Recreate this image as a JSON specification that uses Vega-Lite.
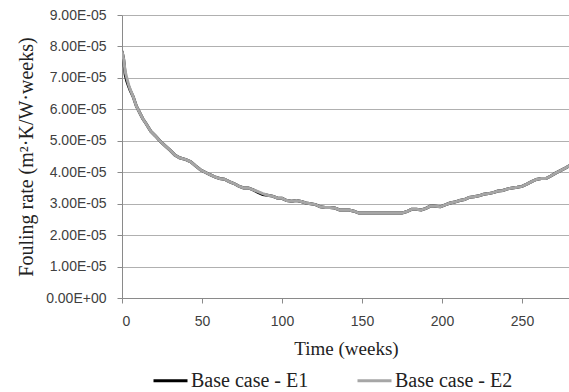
{
  "$schema": "https://vega.github.io/schema/vega-lite/v6.json",
  "width": 448,
  "height": 283,
  "autosize": {"type": "none"},
  "padding": {"left": 122, "top": 15, "right": 0, "bottom": 94},
  "background": "white",
  "config": {
    "view": {"stroke": null},
    "axis": {
      "labelFont": "Liberation Sans",
      "labelFontSize": 14,
      "labelColor": "#404040",
      "titleFont": "Liberation Serif",
      "titleFontSize": 19,
      "titleFontWeight": "normal",
      "titleColor": "#222222",
      "domainColor": "#8a8a8a",
      "tickColor": "#8a8a8a",
      "gridColor": "#b0b0b0",
      "tickSize": 5
    },
    "legend": {
      "labelFont": "Liberation Serif",
      "labelFontSize": 20,
      "labelColor": "#222222"
    }
  },
  "data": {
    "values": [
      {"t": 0, "E1": 7.85e-5, "E2": 7.85e-5},
      {"t": 1, "E1": 7.6e-5, "E2": 7.6e-5},
      {"t": 2, "E1": 7.1e-5, "E2": 7.2e-5},
      {"t": 3, "E1": 6.9e-5, "E2": 7.0e-5},
      {"t": 4, "E1": 6.75e-5, "E2": 6.8e-5},
      {"t": 5, "E1": 6.62e-5, "E2": 6.65e-5},
      {"t": 7, "E1": 6.4e-5, "E2": 6.4e-5},
      {"t": 9, "E1": 6.1e-5, "E2": 6.1e-5},
      {"t": 11, "E1": 5.9e-5, "E2": 5.9e-5},
      {"t": 13, "E1": 5.7e-5, "E2": 5.7e-5},
      {"t": 15, "E1": 5.55e-5, "E2": 5.55e-5},
      {"t": 18, "E1": 5.3e-5, "E2": 5.3e-5},
      {"t": 21, "E1": 5.15e-5, "E2": 5.15e-5},
      {"t": 24, "E1": 4.98e-5, "E2": 4.98e-5},
      {"t": 27, "E1": 4.84e-5, "E2": 4.84e-5},
      {"t": 30, "E1": 4.7e-5, "E2": 4.7e-5},
      {"t": 33, "E1": 4.55e-5, "E2": 4.55e-5},
      {"t": 36, "E1": 4.46e-5, "E2": 4.46e-5},
      {"t": 40, "E1": 4.4e-5, "E2": 4.4e-5},
      {"t": 43, "E1": 4.33e-5, "E2": 4.33e-5},
      {"t": 46, "E1": 4.2e-5, "E2": 4.2e-5},
      {"t": 49, "E1": 4.08e-5, "E2": 4.08e-5},
      {"t": 52, "E1": 4.0e-5, "E2": 4.0e-5},
      {"t": 55, "E1": 3.92e-5, "E2": 3.92e-5},
      {"t": 58, "E1": 3.85e-5, "E2": 3.85e-5},
      {"t": 61, "E1": 3.8e-5, "E2": 3.8e-5},
      {"t": 64, "E1": 3.78e-5, "E2": 3.78e-5},
      {"t": 67, "E1": 3.7e-5, "E2": 3.7e-5},
      {"t": 70, "E1": 3.64e-5, "E2": 3.64e-5},
      {"t": 73, "E1": 3.56e-5, "E2": 3.56e-5},
      {"t": 76, "E1": 3.5e-5, "E2": 3.5e-5},
      {"t": 79, "E1": 3.5e-5, "E2": 3.5e-5},
      {"t": 82, "E1": 3.44e-5, "E2": 3.44e-5},
      {"t": 85, "E1": 3.36e-5, "E2": 3.38e-5},
      {"t": 88, "E1": 3.29e-5, "E2": 3.32e-5},
      {"t": 91, "E1": 3.27e-5, "E2": 3.27e-5},
      {"t": 94, "E1": 3.24e-5, "E2": 3.24e-5},
      {"t": 97, "E1": 3.18e-5, "E2": 3.18e-5},
      {"t": 100, "E1": 3.17e-5, "E2": 3.17e-5},
      {"t": 103, "E1": 3.1e-5, "E2": 3.1e-5},
      {"t": 106, "E1": 3.08e-5, "E2": 3.08e-5},
      {"t": 109, "E1": 3.1e-5, "E2": 3.1e-5},
      {"t": 112, "E1": 3.07e-5, "E2": 3.07e-5},
      {"t": 115, "E1": 3.02e-5, "E2": 3.02e-5},
      {"t": 118, "E1": 3.0e-5, "E2": 3.0e-5},
      {"t": 121, "E1": 2.97e-5, "E2": 2.97e-5},
      {"t": 124, "E1": 2.9e-5, "E2": 2.9e-5},
      {"t": 127, "E1": 2.88e-5, "E2": 2.88e-5},
      {"t": 130, "E1": 2.88e-5, "E2": 2.88e-5},
      {"t": 133, "E1": 2.86e-5, "E2": 2.86e-5},
      {"t": 136, "E1": 2.8e-5, "E2": 2.8e-5},
      {"t": 139, "E1": 2.8e-5, "E2": 2.8e-5},
      {"t": 142, "E1": 2.8e-5, "E2": 2.8e-5},
      {"t": 145, "E1": 2.76e-5, "E2": 2.76e-5},
      {"t": 148, "E1": 2.7e-5, "E2": 2.7e-5},
      {"t": 152, "E1": 2.7e-5, "E2": 2.7e-5},
      {"t": 160, "E1": 2.7e-5, "E2": 2.7e-5},
      {"t": 168, "E1": 2.7e-5, "E2": 2.7e-5},
      {"t": 175, "E1": 2.7e-5, "E2": 2.7e-5},
      {"t": 178, "E1": 2.75e-5, "E2": 2.75e-5},
      {"t": 181, "E1": 2.82e-5, "E2": 2.82e-5},
      {"t": 184, "E1": 2.82e-5, "E2": 2.82e-5},
      {"t": 187, "E1": 2.8e-5, "E2": 2.8e-5},
      {"t": 190, "E1": 2.85e-5, "E2": 2.85e-5},
      {"t": 193, "E1": 2.93e-5, "E2": 2.93e-5},
      {"t": 196, "E1": 2.92e-5, "E2": 2.92e-5},
      {"t": 199, "E1": 2.9e-5, "E2": 2.9e-5},
      {"t": 202, "E1": 2.96e-5, "E2": 2.96e-5},
      {"t": 205, "E1": 3.02e-5, "E2": 3.02e-5},
      {"t": 208, "E1": 3.05e-5, "E2": 3.05e-5},
      {"t": 211, "E1": 3.1e-5, "E2": 3.1e-5},
      {"t": 214, "E1": 3.13e-5, "E2": 3.13e-5},
      {"t": 217, "E1": 3.2e-5, "E2": 3.2e-5},
      {"t": 220, "E1": 3.22e-5, "E2": 3.22e-5},
      {"t": 223, "E1": 3.25e-5, "E2": 3.25e-5},
      {"t": 226, "E1": 3.3e-5, "E2": 3.3e-5},
      {"t": 229, "E1": 3.32e-5, "E2": 3.32e-5},
      {"t": 232, "E1": 3.35e-5, "E2": 3.35e-5},
      {"t": 235, "E1": 3.4e-5, "E2": 3.4e-5},
      {"t": 238, "E1": 3.42e-5, "E2": 3.42e-5},
      {"t": 241, "E1": 3.47e-5, "E2": 3.47e-5},
      {"t": 244, "E1": 3.5e-5, "E2": 3.5e-5},
      {"t": 247, "E1": 3.52e-5, "E2": 3.52e-5},
      {"t": 250, "E1": 3.55e-5, "E2": 3.55e-5},
      {"t": 253, "E1": 3.62e-5, "E2": 3.62e-5},
      {"t": 256, "E1": 3.7e-5, "E2": 3.7e-5},
      {"t": 259, "E1": 3.77e-5, "E2": 3.77e-5},
      {"t": 262, "E1": 3.8e-5, "E2": 3.8e-5},
      {"t": 265, "E1": 3.8e-5, "E2": 3.8e-5},
      {"t": 268, "E1": 3.88e-5, "E2": 3.88e-5},
      {"t": 271, "E1": 3.97e-5, "E2": 3.97e-5},
      {"t": 274, "E1": 4.05e-5, "E2": 4.05e-5},
      {"t": 277, "E1": 4.13e-5, "E2": 4.13e-5},
      {"t": 280, "E1": 4.22e-5, "E2": 4.22e-5}
    ]
  },
  "transform": [
    {"fold": ["E1", "E2"], "as": ["key", "rate"]},
    {"lookup": "key", "from": {"data": {"values": [{"key": "E1", "series": "Base case - E1"}, {"key": "E2", "series": "Base case - E2"}]}, "key": "key", "fields": ["series"]}}
  ],
  "mark": {"type": "line", "strokeWidth": 3, "clip": true},
  "encoding": {
    "x": {
      "field": "t",
      "type": "quantitative",
      "scale": {"domain": [0, 280], "nice": false},
      "axis": {
        "title": "Time (weeks)",
        "values": [0, 50, 100, 150, 200, 250],
        "grid": false,
        "labelPadding": 11,
        "titlePadding": 11
      }
    },
    "y": {
      "field": "rate",
      "type": "quantitative",
      "scale": {"domain": [0, 9e-5], "nice": false},
      "axis": {
        "title": "Fouling rate (m²·K/W·weeks)",
        "titleFontSize": 20,
        "values": [0, 1e-5, 2e-5, 3e-5, 4e-5, 5e-5, 6e-5, 7e-5, 8e-5, 9e-5],
        "labelExpr": "datum.value == 0 ? '0.00E+00' : format(datum.value * 100000, '.2f') + 'E-05'",
        "grid": true,
        "labelPadding": 11,
        "titlePadding": 9
      }
    },
    "color": {
      "field": "series",
      "type": "nominal",
      "scale": {"domain": ["Base case - E1", "Base case - E2"], "range": ["#000000", "#a6a6a6"]},
      "legend": {
        "title": null,
        "orient": "none",
        "direction": "horizontal",
        "legendX": 30,
        "legendY": 347,
        "padding": 0,
        "symbolType": "stroke",
        "symbolSize": 1156,
        "symbolStrokeWidth": 3,
        "labelOffset": 2,
        "columnPadding": 42
      }
    }
  }
}
